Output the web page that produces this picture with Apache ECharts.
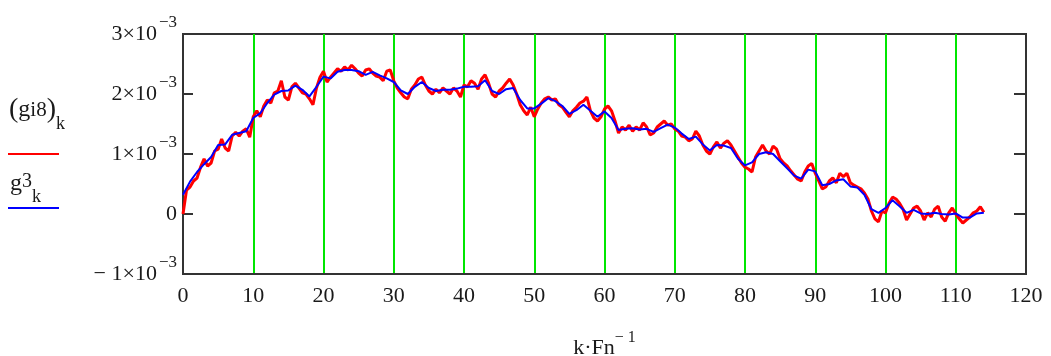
<!DOCTYPE html>
<html>
<head>
<meta charset="utf-8">
<script src="https://cdn.jsdelivr.net/npm/echarts@6/dist/echarts.min.js"></script>
<style>
  html, body { margin: 0; padding: 0; background: #fff; }
  #main { width: 1051px; height: 356px; }
</style>
</head>
<body>
<div id="main"></div>
<script>
// values in units of 1e-3
// g3 (blue), one point per unit of k
var g3 = [
  0.32, 0.54, 0.70, 0.83, 0.95, 1.15, 1.16, 1.32, 1.35, 1.38,
  1.60, 1.68, 1.85, 1.99, 2.05, 2.06, 2.14, 2.07, 1.96, 2.12,
  2.29, 2.26, 2.37, 2.40, 2.40, 2.38, 2.32, 2.37, 2.31, 2.26,
  2.20, 2.06, 2.00, 2.12, 2.20, 2.10, 2.05, 2.07, 2.07, 2.09,
  2.12, 2.12, 2.13, 2.23, 2.05, 2.00, 2.08, 2.10, 1.90, 1.76,
  1.76, 1.84, 1.93, 1.88, 1.80, 1.67, 1.73, 1.82, 1.72, 1.62,
  1.71, 1.60, 1.40, 1.42, 1.43, 1.41, 1.42, 1.37, 1.43, 1.49,
  1.44, 1.34, 1.25, 1.29, 1.16, 1.06, 1.15, 1.14, 1.10, 0.92,
  0.81, 0.86, 1.00, 1.03, 1.00, 0.88, 0.76, 0.64, 0.59, 0.74,
  0.71, 0.48, 0.50, 0.56, 0.58, 0.46, 0.44, 0.32, 0.08, 0.02,
  0.10, 0.23, 0.13, 0.02, 0.07, 0.01, 0.00, 0.02, 0.00, -0.01,
  0.01, -0.06, -0.06, 0.01, 0.02
];
var g3Step = 1;

// g_i8 (red), one point per half unit of k
var gi8 = [
  0.00, 0.40, 0.45, 0.55, 0.60, 0.78, 0.92, 0.80, 0.85, 1.05,
  1.08, 1.25, 1.10, 1.05, 1.30, 1.36, 1.30, 1.38, 1.42, 1.28,
  1.62, 1.72, 1.62, 1.80, 1.90, 1.85, 2.02, 2.05, 2.22, 1.95,
  1.90, 2.12, 2.18, 2.10, 2.02, 2.00, 1.92, 1.82, 2.10, 2.28,
  2.38, 2.20, 2.28, 2.35, 2.42, 2.38, 2.45, 2.40, 2.48, 2.42,
  2.35, 2.30, 2.40, 2.42, 2.35, 2.30, 2.28, 2.22, 2.38, 2.40,
  2.22, 2.10, 2.02, 1.95, 1.92, 2.08, 2.15, 2.25, 2.28, 2.15,
  2.05, 2.00, 2.08, 2.02, 2.10, 2.05, 2.00, 2.10, 2.05, 1.95,
  2.15, 2.12, 2.22, 2.18, 2.08, 2.25, 2.32, 2.18, 2.00, 1.95,
  2.05, 2.10, 2.18, 2.25, 2.15, 2.00, 1.82, 1.72, 1.65, 1.78,
  1.62, 1.75, 1.85, 1.92, 1.95, 1.90, 1.92, 1.82, 1.78, 1.70,
  1.62, 1.72, 1.78, 1.85, 1.88, 1.95, 1.72, 1.60, 1.55, 1.62,
  1.75, 1.80, 1.72, 1.55, 1.35, 1.45, 1.40, 1.48, 1.38, 1.45,
  1.40, 1.52, 1.45, 1.32, 1.35, 1.45, 1.50, 1.55, 1.48, 1.50,
  1.42, 1.38, 1.30, 1.28, 1.22, 1.25, 1.38, 1.30, 1.15, 1.05,
  1.00, 1.12, 1.20, 1.10, 1.18, 1.22, 1.15, 1.05, 0.95, 0.85,
  0.78, 0.75, 0.70, 0.95, 1.05, 1.15, 1.05, 1.00, 1.13, 1.08,
  0.92, 0.85, 0.80, 0.72, 0.65, 0.58, 0.55, 0.70, 0.80, 0.84,
  0.68, 0.55, 0.42, 0.45, 0.55, 0.60, 0.52, 0.68, 0.62, 0.68,
  0.52, 0.48, 0.45, 0.42, 0.35, 0.25, 0.05, -0.08, -0.13, 0.05,
  0.02, 0.18, 0.28, 0.25, 0.18, 0.08, -0.10, 0.00, 0.10, 0.13,
  0.05, -0.10, 0.02, -0.05, 0.08, 0.13, -0.05, -0.12, 0.02, 0.10,
  0.00, -0.08, -0.15, -0.10, -0.05, 0.02, 0.05, 0.12, 0.03
];
var gi8Step = 0.5;

function pairs(vals, step) {
  var out = [];
  for (var i = 0; i < vals.length; i++) out.push([i * step, vals[i]]);
  return out;
}

var serif = '"Liberation Serif", "DejaVu Serif", serif';
var txt = '#1a1a1a';

var chart = echarts.init(document.getElementById('main'));
chart.setOption({
  animation: false,
  backgroundColor: '#fff',
  grid: {
    left: 183, right: 25, top: 34, bottom: 82,
    outerBoundsMode: 'none', containLabel: false,
    show: true, borderColor: '#333', borderWidth: 2
  },
  xAxis: {
    type: 'value', min: 0, max: 120, interval: 10,
    axisLine: { show: true, onZero: false, lineStyle: { color: '#333', width: 2 } },
    axisTick: { show: false },
    axisLabel: { color: txt, fontFamily: serif, fontSize: 22, margin: 11 },
    splitLine: { show: true, lineStyle: { color: '#00e600', width: 2 } },
    name: '{b|k·Fn}{s|− 1}',
    nameLocation: 'middle', nameGap: 56,
    nameTextStyle: {
      rich: {
        b: { fontFamily: serif, fontSize: 22, color: txt, verticalAlign: 'middle', lineHeight: 36 },
        s: { fontFamily: serif, fontSize: 16, color: txt, verticalAlign: 'top', lineHeight: 14 }
      }
    }
  },
  yAxis: [{
    type: 'value', min: -1, max: 3, interval: 1,
    axisLine: { show: true, onZero: false, lineStyle: { color: '#333', width: 2 } },
    axisTick: { show: true, inside: true, length: 10, lineStyle: { color: '#333', width: 2 } },
    splitLine: { show: false },
    axisLabel: {
      margin: 6,
      formatter: function (v) {
        if (v === 0) return '{z|0}';
        var n = v < 0 ? '− ' + Math.abs(v) : '' + v;
        return '{b|' + n + '×10}{s|−3}';
      },
      rich: {
        z: { fontFamily: serif, fontSize: 22, color: txt },
        b: { fontFamily: serif, fontSize: 22, color: txt, verticalAlign: 'middle', lineHeight: 40 },
        s: { fontFamily: serif, fontSize: 17, color: txt, verticalAlign: 'top', lineHeight: 14, padding: [0, 0, 0, 2] }
      }
    }
  }, {
    type: 'value', min: -1, max: 3, interval: 1, position: 'right',
    axisLine: { show: true, onZero: false, lineStyle: { color: '#333', width: 2 } },
    axisTick: { show: true, inside: true, length: 12, lineStyle: { color: '#333', width: 2 } },
    axisLabel: { show: false },
    splitLine: { show: false }
  }],
  graphic: [
    {
      type: 'text', left: 9, top: 96,
      style: {
        text: '{p|(}{g|g}{i|i8}{p|)}{k|k}',
        rich: {
          p: { fontFamily: serif, fontSize: 28, fill: txt, lineHeight: 34, verticalAlign: 'middle' },
          g: { fontFamily: serif, fontSize: 24, fill: txt, lineHeight: 34, verticalAlign: 'middle' },
          i: { fontFamily: serif, fontSize: 21, fill: txt, lineHeight: 34, verticalAlign: 'middle' },
          k: { fontFamily: serif, fontSize: 18, fill: txt, lineHeight: 46, verticalAlign: 'bottom' }
        }
      }
    },
    { type: 'line', shape: { x1: 8, y1: 154, x2: 59, y2: 154 }, style: { stroke: '#ff0000', lineWidth: 2 } },
    {
      type: 'text', left: 10, top: 172,
      style: {
        text: '{g|g}{t|3}{k|k}',
        rich: {
          g: { fontFamily: serif, fontSize: 24, fill: txt, lineHeight: 28, verticalAlign: 'top' },
          t: { fontFamily: serif, fontSize: 20, fill: txt, lineHeight: 24, verticalAlign: 'top' },
          k: { fontFamily: serif, fontSize: 18, fill: txt, lineHeight: 34, verticalAlign: 'bottom' }
        }
      }
    },
    { type: 'line', shape: { x1: 8, y1: 208, x2: 59, y2: 208 }, style: { stroke: '#0000ff', lineWidth: 2 } }
  ],
  series: [
    {
      name: 'gi8', type: 'line', data: pairs(gi8, gi8Step),
      showSymbol: false, lineStyle: { color: '#ff0000', width: 3 }, z: 2
    },
    {
      name: 'g3', type: 'line', data: pairs(g3, g3Step),
      showSymbol: false, lineStyle: { color: '#0000ff', width: 2 }, z: 3
    }
  ]
});
</script>
</body>
</html>
